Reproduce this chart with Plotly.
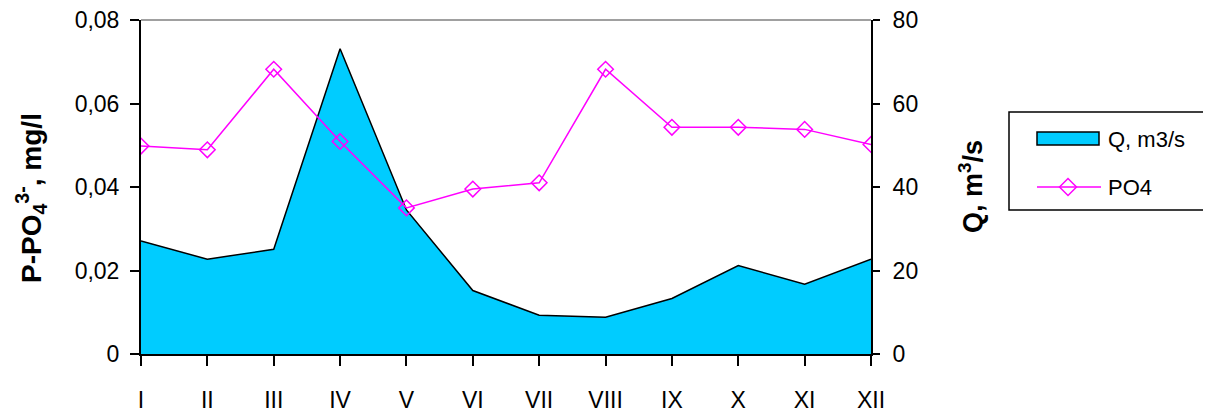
import plotly.graph_objects as go

months = ["I", "II", "III", "IV", "V", "VI", "VII", "VIII", "IX", "X", "XI", "XII"]
q_values = [27.1, 22.7, 25.1, 73.1, 34.5, 15.2, 9.3, 8.8, 13.3, 21.2, 16.7, 22.7]
po4_values = [0.0498, 0.0489, 0.0682, 0.0509, 0.0350, 0.0395, 0.0410, 0.0682, 0.0543, 0.0543, 0.0538, 0.0502]
left_ticks = [0, 0.02, 0.04, 0.06, 0.08]
left_ticktext = ["0", "0,02", "0,04", "0,06", "0,08"]
right_ticks = [0, 20, 40, 60, 80]
right_ticktext = ["0", "20", "40", "60", "80"]
series_names = ["Q, m3/s", "PO4"]

xpos = list(range(len(months)))
FONT = "Liberation Sans, Arial, sans-serif"
NARROW = "Liberation Sans Narrow, Arial Narrow, " + FONT
Q_COLOR = "#00CCFF"
P_COLOR = "#FF00FF"

# page offset of the default <body> margin
OFF = 8
PL, PR, PT, PB = 141, 871, 20, 354  # plot area in page pixels


def px_x(p):
    return (p - PL) / (PR - PL)


def px_y(p):
    return (PB - p) / (PB - PT)


fig = go.Figure()
fig.add_trace(go.Scatter(
    x=xpos, y=q_values, name=series_names[0], mode="lines",
    fill="tozeroy", fillcolor=Q_COLOR,
    line=dict(color="black", width=1.5),
    yaxis="y", showlegend=False,
))
fig.add_trace(go.Scatter(
    x=xpos, y=po4_values, name=series_names[1], mode="lines+markers",
    line=dict(color=P_COLOR, width=1.5),
    marker=dict(symbol="diamond-open", size=12, color=P_COLOR, line=dict(width=1.5)),
    yaxis="y2", showlegend=False,
))

W, H = 1211 - OFF, 413 - OFF
fig.update_layout(
    width=W, height=H,
    margin=dict(l=PL - OFF, r=W - (PR - OFF), t=PT - OFF, b=H - (PB - OFF), autoexpand=False),
    paper_bgcolor="white", plot_bgcolor="white",
    font=dict(family=FONT, size=23, color="black"),
    showlegend=False,
    xaxis=dict(
        range=[0, 11], tickmode="array", tickvals=xpos, ticktext=months,
        showline=True, linecolor="black", linewidth=2,
        ticks="outside", ticklen=10, tickwidth=1.5, tickcolor="black",
        showgrid=False, zeroline=False, ticklabelstandoff=14,
        ticklabeloverflow="allow",
        tickfont=dict(family=NARROW, size=23),
    ),
    yaxis=dict(
        side="right", range=[0, 80], tickmode="array",
        tickvals=right_ticks, ticktext=right_ticktext,
        showline=True, linecolor="black", linewidth=2,
        ticks="outside", ticklen=7, tickwidth=1.5, tickcolor="black",
        showgrid=False, zeroline=False, ticklabelstandoff=8,
        ticklabeloverflow="allow",
    ),
    yaxis2=dict(
        side="left", overlaying="y", range=[0, 0.08], tickmode="array",
        tickvals=left_ticks, ticktext=left_ticktext,
        showline=True, linecolor="black", linewidth=2,
        ticks="outside", ticklen=9, tickwidth=1.5, tickcolor="black",
        showgrid=False, zeroline=False, ticklabelstandoff=6,
        ticklabeloverflow="allow",
    ),
    shapes=[
        # top frame line
        dict(type="line", xref="paper", yref="paper", x0=0, x1=1, y0=1, y1=1,
             line=dict(color="#808080", width=1.5)),
        # legend frame
        dict(type="rect", xref="paper", yref="paper",
             x0=px_x(1009), x1=px_x(1240), y0=px_y(112), y1=px_y(210),
             line=dict(color="black", width=1.5), fillcolor="white"),
        # legend key: Q area
        dict(type="rect", xref="paper", yref="paper",
             x0=px_x(1037), x1=px_x(1099), y0=px_y(132), y1=px_y(145),
             line=dict(color="black", width=1.5), fillcolor=Q_COLOR),
        # legend key: PO4 line
        dict(type="line", xref="paper", yref="paper",
             x0=px_x(1037), x1=px_x(1101), y0=px_y(187), y1=px_y(187),
             line=dict(color=P_COLOR, width=1.5)),
        # legend key: PO4 diamond
        dict(type="path", xref="paper", yref="paper", xsizemode="pixel", ysizemode="pixel",
             xanchor=px_x(1068), yanchor=px_y(187),
             path="M-8.5,0L0,8.5L8.5,0L0,-8.5Z",
             line=dict(color=P_COLOR, width=1.5), fillcolor="rgba(0,0,0,0)"),
    ],
    annotations=[
        dict(text="<b>P-PO<sub>4</sub><sup>3-</sup>, mg/l</b>", textangle=-90,
             xref="paper", yref="paper", x=px_x(31), y=px_y(198), xanchor="center", yanchor="middle",
             showarrow=False, font=dict(size=28)),
        dict(text="<b>Q, m<sup>3</sup>/s</b>", textangle=-90,
             xref="paper", yref="paper", x=px_x(971), y=px_y(187), xanchor="center", yanchor="middle",
             showarrow=False, font=dict(size=27)),
        dict(text=series_names[0], xref="paper", yref="paper", x=px_x(1106), y=px_y(139),
             xanchor="left", yanchor="middle", showarrow=False, font=dict(size=22)),
        dict(text=series_names[1], xref="paper", yref="paper", x=px_x(1106), y=px_y(187),
             xanchor="left", yanchor="middle", showarrow=False, font=dict(size=22)),
    ],
)

fig.write_html("out.html")
